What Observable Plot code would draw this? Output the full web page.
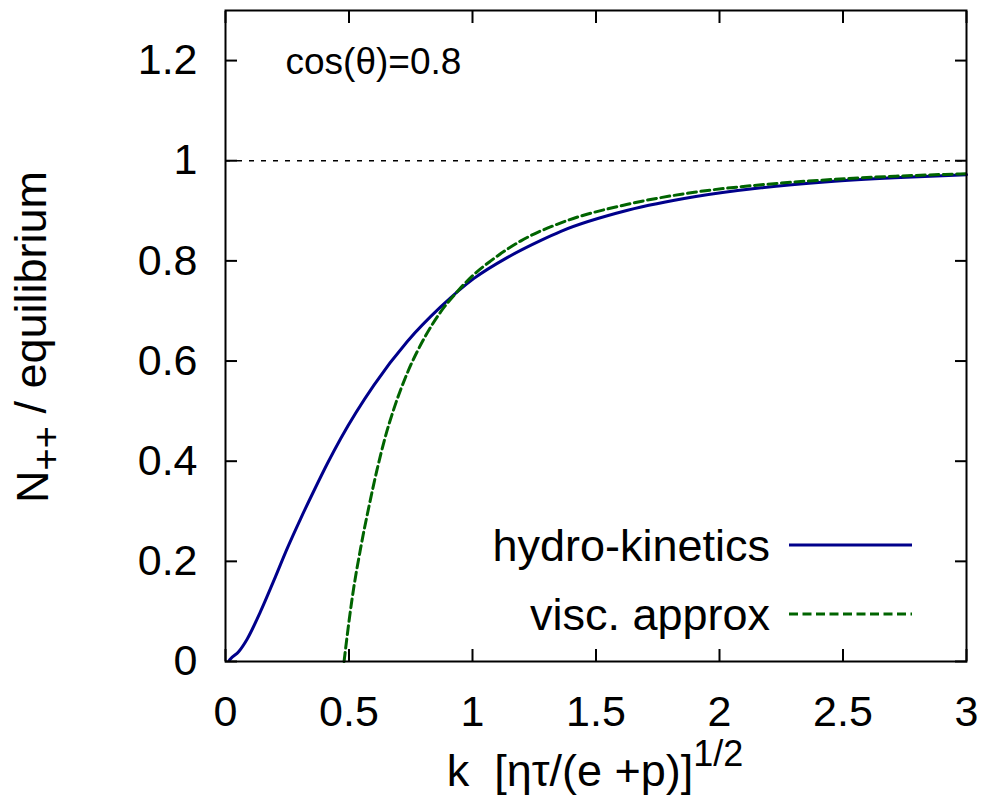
<!DOCTYPE html>
<html><head><meta charset="utf-8">
<script src="https://cdn.jsdelivr.net/npm/d3@7"></script>
<script src="https://cdn.jsdelivr.net/npm/@observablehq/plot@0.6"></script>
<style>body{margin:0;background:#fff} svg{display:block}</style>
</head><body><div id="chart"></div>
<script>
// hydro-kinetics curve
const hkK = [0.015, 0.02, 0.054, 0.088, 0.142, 0.196, 0.25, 0.304, 0.358, 0.412, 0.466, 0.601, 0.736, 0.871, 1.006, 1.142, 1.277, 1.358, 1.628, 1.898, 2.169, 2.439, 2.709, 3.0];
const hkN = [0.002, 0.005, 0.02, 0.045, 0.1, 0.162, 0.226, 0.285, 0.341, 0.395, 0.445, 0.552, 0.639, 0.708, 0.765, 0.807, 0.841, 0.859, 0.901, 0.928, 0.946, 0.958, 0.966, 0.972];
// viscous approximation curve
const vaK = [0.48, 0.5, 0.513, 0.547, 0.581, 0.615, 0.645, 0.682, 0.736, 0.804, 0.871, 0.939, 1.006, 1.074, 1.196, 1.358, 1.628, 1.898, 2.169, 2.439, 2.709, 3.0];
const vaN = [0.0, 0.08, 0.127, 0.226, 0.31, 0.386, 0.445, 0.505, 0.576, 0.645, 0.698, 0.739, 0.773, 0.8, 0.84, 0.876, 0.913, 0.937, 0.952, 0.962, 0.969, 0.974];
const xTicks = [0, 0.5, 1, 1.5, 2, 2.5, 3];
const yTicks = [0, 0.2, 0.4, 0.6, 0.8, 1, 1.2];
const equilibrium = [1];
const seriesNames = ["hydro-kinetics", "visc. approx"];
const seriesColors = ["#00008b", "#006400"];
const annotation = ["cos(θ)=0.8"];

const hk = hkK.map((k, i) => ({k, n: hkN[i]}));
const va = vaK.map((k, i) => ({k, n: vaN[i]}));
const fmt = d => String(d);
const FONT = "'Liberation Sans', Arial, Helvetica, sans-serif";

const plot = Plot.plot({
  width: 987, height: 808,
  marginLeft: 225, marginRight: 21, marginTop: 10, marginBottom: 147,
  style: {fontFamily: FONT, fontSize: "43px", color: "black", background: "white"},
  x: {domain: [0, 3]},
  y: {domain: [0, 1.3]},
  marks: [
    Plot.ruleY(equilibrium, {stroke: "black", strokeWidth: 1.6, strokeDasharray: "5,7"}),
    Plot.line(hk, {x: "k", y: "n", stroke: seriesColors[0], strokeWidth: 3, curve: "monotone-x"}),
    Plot.line(va, {x: "k", y: "n", stroke: seriesColors[1], strokeWidth: 3, strokeDasharray: "9,4.5", curve: "monotone-x"}),
    Plot.axisX({anchor: "bottom", ticks: xTicks, tickSize: -12, tickFormat: () => "", label: null, strokeWidth: 2}),
    Plot.axisX({anchor: "top", ticks: xTicks, tickSize: -12, tickFormat: () => "", label: null, strokeWidth: 2}),
    Plot.axisY({anchor: "left", ticks: yTicks, tickSize: -12, tickFormat: () => "", label: null, strokeWidth: 2}),
    Plot.axisY({anchor: "right", ticks: yTicks, tickSize: -12, tickFormat: () => "", label: null, strokeWidth: 2}),
    Plot.axisX({anchor: "bottom", ticks: xTicks, tickSize: 0, tickPadding: 34, tickFormat: fmt, label: null, fontSize: 43}),
    Plot.axisY({anchor: "left", ticks: yTicks, tickSize: 0, tickPadding: 28, tickFormat: fmt, label: null, fontSize: 43}),
    Plot.frame({stroke: "black", strokeWidth: 2}),
    Plot.text(annotation, {text: d => d, frameAnchor: "top-left", dx: 60, dy: 52, textAnchor: "start", lineAnchor: "middle", fontSize: 37})
  ]
});
document.getElementById("chart").appendChild(plot);

const svg = d3.select(plot);
// y axis title
const yt = svg.append("text")
  .attr("transform", "translate(48,337) rotate(-90)")
  .attr("text-anchor", "middle")
  .attr("font-family", FONT).attr("font-size", 45).attr("fill", "black");
yt.append("tspan").text("N");
yt.append("tspan").attr("dy", "0.3em").attr("font-size", 38).text("++");
yt.append("tspan").attr("dy", "-0.3em").text("\u00a0/ equilibrium");

// x axis title
const xt = svg.append("text")
  .attr("x", 595).attr("y", 786)
  .attr("text-anchor", "middle")
  .attr("font-family", FONT).attr("font-size", 45).attr("fill", "black");
xt.append("tspan").text("k\u00a0\u00a0[ητ/(e +p)]");
xt.append("tspan").attr("dy", "-0.55em").attr("font-size", 36).text("1/2");

// legend
const legY = [545, 614];
seriesNames.forEach((name, i) => {
  svg.append("text").attr("x", 770).attr("y", legY[i]).attr("dy", "0.36em")
    .attr("text-anchor", "end").attr("font-family", FONT).attr("font-size", 45).attr("fill", "black")
    .text(name);
  const ln = svg.append("line").attr("x1", 789).attr("x2", 912).attr("y1", legY[i]).attr("y2", legY[i])
    .attr("stroke", seriesColors[i]).attr("stroke-width", 3);
  if (i === 1) ln.attr("stroke-dasharray", "9,4.5");
});
</script>
</body></html>
